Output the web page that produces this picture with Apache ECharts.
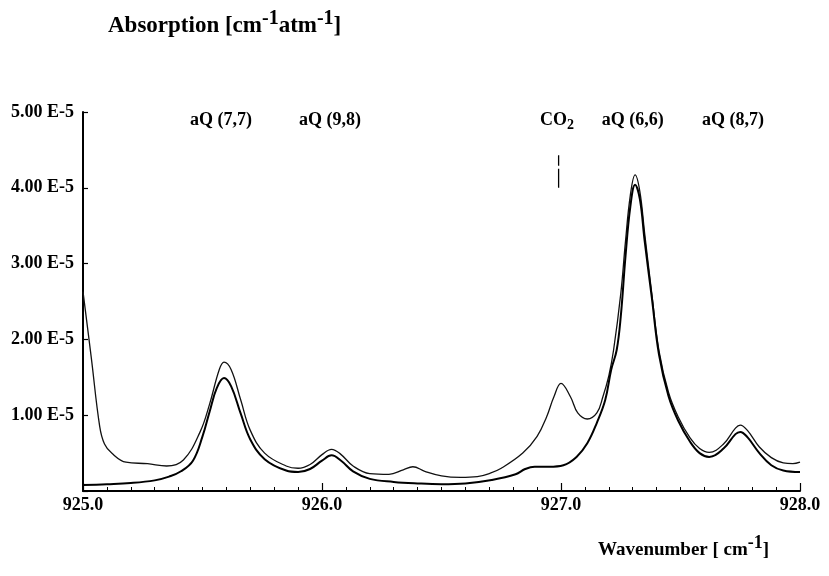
<!DOCTYPE html>
<html>
<head>
<meta charset="utf-8">
<script src="https://cdn.jsdelivr.net/npm/echarts@6/dist/echarts.min.js"></script>
<style>
  html, body { margin: 0; padding: 0; background: #fff; }
  #chart { width: 829px; height: 576px; }
</style>
</head>
<body>
<div id="chart"></div>
<script>
// absorption in units of 1E-5 cm-1 atm-1, wavenumber in cm-1
const upperX = [925.00, 925.035, 925.07, 925.09, 925.12, 925.18, 925.27, 925.35, 925.42,
  925.49, 925.53, 925.57, 925.59, 925.62, 925.66, 925.70, 925.76, 925.85, 925.90,
  925.95, 926.00, 926.04, 926.08, 926.13, 926.20, 926.28, 926.34, 926.38, 926.43,
  926.50, 926.58, 926.65, 926.70, 926.75, 926.84, 926.90, 926.94, 926.97, 927.00,
  927.04, 927.07, 927.11, 927.15, 927.175, 927.20, 927.22, 927.25, 927.27, 927.29,
  927.31, 927.33, 927.35, 927.38, 927.41, 927.45, 927.49, 927.54, 927.58, 927.62,
  927.68, 927.73, 927.75, 927.78, 927.83, 927.88, 927.93, 927.97, 928.00]
const upperY = [2.63, 1.75, 0.85, 0.62, 0.50, 0.38, 0.36, 0.33, 0.41,
  0.78, 1.15, 1.60, 1.70, 1.60, 1.20, 0.80, 0.50, 0.33, 0.30,
  0.35, 0.48, 0.55, 0.48, 0.33, 0.23, 0.22, 0.28, 0.32, 0.26,
  0.20, 0.18, 0.19, 0.23, 0.30, 0.50, 0.72, 0.98, 1.24, 1.42,
  1.24, 1.03, 0.95, 1.03, 1.24, 1.52, 1.86, 2.60, 3.30, 3.90,
  4.17, 3.95, 3.40, 2.60, 1.85, 1.30, 0.98, 0.70, 0.56, 0.51,
  0.62, 0.83, 0.87, 0.80, 0.58, 0.44, 0.37, 0.36, 0.38]

const lowerX = [925.00, 925.10, 925.20, 925.30, 925.36, 925.41, 925.46, 925.50, 925.53, 925.56,
  925.59, 925.62, 925.66, 925.70, 925.76, 925.85, 925.90, 925.95, 926.00, 926.04,
  926.08, 926.13, 926.20, 926.30, 926.40, 926.50, 926.60, 926.71, 926.81, 926.85,
  926.89, 926.95, 927.01, 927.065, 927.11, 927.15, 927.185, 927.21, 927.233, 927.25,
  927.27, 927.29, 927.31, 927.33, 927.35, 927.38, 927.41, 927.45, 927.49, 927.54,
  927.58, 927.62, 927.68, 927.73, 927.75, 927.78, 927.83, 927.88, 927.93, 928.00]
const lowerY = [0.08, 0.09, 0.105, 0.14, 0.19, 0.26, 0.40, 0.72, 1.05, 1.36,
  1.49, 1.38, 1.02, 0.68, 0.42, 0.27, 0.25, 0.29, 0.40, 0.47,
  0.40, 0.26, 0.16, 0.12, 0.10, 0.09, 0.10, 0.145, 0.22, 0.29,
  0.32, 0.32, 0.34, 0.45, 0.63, 0.90, 1.20, 1.60, 1.86, 2.30,
  3.10, 3.75, 4.04, 3.85, 3.30, 2.55, 1.80, 1.25, 0.93, 0.65,
  0.50, 0.45, 0.56, 0.75, 0.78, 0.71, 0.50, 0.34, 0.27, 0.25]

// peak labels
const peakNames = ['aQ (7,7)', 'aQ (9,8)', '{b|CO}{sub|2}', 'aQ (6,6)', 'aQ (8,7)']
const peakX = [925.577, 926.033, 926.983, 927.30, 927.72]
const labelY = 4.89

// CO2 marker (broken vertical line)
const co2MarkX = 926.99
const co2MarkY = [4.0, 4.25, null, 4.29, 4.43]

const font = '"Liberation Serif", "Times New Roman", serif'

const zip = (xs, ys) => xs.map((x, i) => [x, ys[i]])

const chart = echarts.init(document.getElementById('chart'))
chart.setOption({
  animation: false,
  title: {
    left: 108,
    top: 9,
    padding: 0,
    text: '{m|Absorption [cm}{s|-1}{m|atm}{s|-1}{m|]}',
    textStyle: {
      rich: {
        m: { fontFamily: font, fontWeight: 'bold', fontSize: 23, lineHeight: 34, color: '#000' },
        s: { fontFamily: font, fontWeight: 'bold', fontSize: 20, lineHeight: 20, verticalAlign: 'top', color: '#000' }
      }
    }
  },
  grid: { left: 83, right: 29, top: 112, bottom: 85 },
  xAxis: {
    type: 'value',
    min: 925,
    max: 928,
    interval: 1,
    axisLine: { lineStyle: { color: '#000', width: 2 } },
    axisTick: { inside: true, length: 8, lineStyle: { color: '#000', width: 1.2 } },
    minorTick: { show: true, splitNumber: 10, length: 4, lineStyle: { color: '#000', width: 1 } },
    splitLine: { show: false },
    axisLabel: {
      margin: 5,
      fontFamily: font, fontWeight: 'bold', fontSize: 18, color: '#000',
      formatter: v => v.toFixed(1)
    }
  },
  yAxis: {
    type: 'value',
    min: 0,
    max: 5,
    interval: 1,
    axisLine: { show: true, lineStyle: { color: '#000', width: 2 } },
    axisTick: { show: true, inside: true, length: 5, lineStyle: { color: '#000', width: 1.2 } },
    splitLine: { show: false },
    axisLabel: {
      margin: 9,
      fontFamily: font, fontWeight: 'bold', fontSize: 18, color: '#000',
      formatter: v => v === 0 ? '' : v.toFixed(2) + ' E-5'
    }
  },
  series: [
    {
      type: 'line',
      data: zip(upperX, upperY),
      smooth: 0.4,
      symbol: 'none',
      lineStyle: { color: '#111', width: 1.3 }
    },
    {
      type: 'line',
      data: zip(lowerX, lowerY),
      smooth: 0.4,
      symbol: 'none',
      lineStyle: { color: '#000', width: 2 }
    },
    {
      type: 'line',
      data: co2MarkY.map(y => [co2MarkX, y]),
      connectNulls: false,
      symbol: 'none',
      lineStyle: { color: '#000', width: 1.3 }
    }
  ]
})

// peak labels placed through the chart's own scales, plus the x axis title
const peakLabels = peakX.map((x, i) => {
  const [px, py] = chart.convertToPixel({ gridIndex: 0 }, [x, labelY])
  return {
    type: 'text',
    x: px,
    y: py,
    style: {
      text: peakNames[i],
      align: 'center',
      verticalAlign: 'middle',
      fill: '#000',
      font: 'bold 18px ' + font,
      rich: {
        b: { fontFamily: font, fontWeight: 'bold', fontSize: 18, fill: '#000' },
        sub: { fontFamily: font, fontWeight: 'bold', fontSize: 14, fill: '#000', verticalAlign: 'bottom', padding: [10, 0, 0, 0] }
      }
    }
  }
})

chart.setOption({
  graphic: peakLabels.concat([{
    type: 'text',
    left: 598,
    top: 534,
    style: {
      text: '{m|Wavenumber [ cm}{s|-1}{m|]}',
      rich: {
        m: { fontFamily: font, fontWeight: 'bold', fontSize: 19, lineHeight: 32, fill: '#000' },
        s: { fontFamily: font, fontWeight: 'bold', fontSize: 18, lineHeight: 18, verticalAlign: 'top', fill: '#000' }
      }
    }
  }])
})
</script>
</body>
</html>
